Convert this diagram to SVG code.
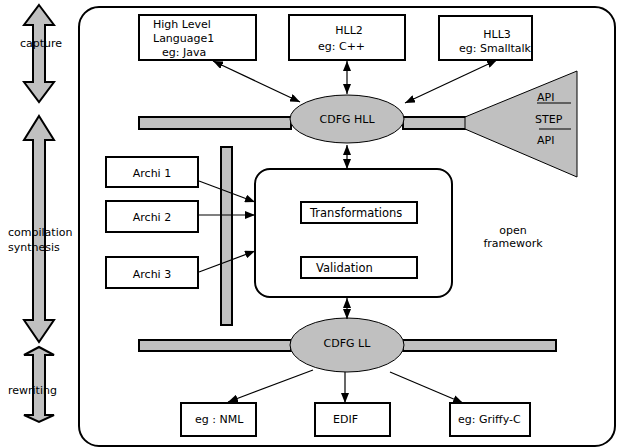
<svg xmlns="http://www.w3.org/2000/svg" width="618" height="448" viewBox="0 0 618 448">
  <style>
    text { font-family: "DejaVu Sans", "Liberation Sans", sans-serif; font-size: 11px; fill: #000; }
    .box { fill: #fff; stroke: #000; stroke-width: 2; }
    .bar { fill: #c0c0c0; stroke: #000; stroke-width: 2; }
    .oval { fill: #c0c0c0; stroke: #000; stroke-width: 1; }
    .flow { fill: #c0c0c0; stroke: #000; stroke-width: 2; stroke-linejoin: miter; }
    .edge { fill: none; stroke: #000; stroke-width: 1.2; }
    .mid { text-anchor: middle; }
  </style>
  <defs>
    <marker id="head" viewBox="0 0 10 8" refX="10" refY="4" markerWidth="10" markerHeight="8" markerUnits="userSpaceOnUse" orient="auto-start-reverse">
      <path d="M0,0 L10,4 L0,8 Z" fill="#000"/>
    </marker>
  </defs>

  <!-- phase arrows on the left -->
  <g id="phase-capture">
    <polygon class="flow" points="39,5 54,25 45,25 45,82 54,82 39,102 24,82 33,82 33,25 24,25"/>
    <text x="20" y="47">capture</text>
  </g>
  <g id="phase-compilation">
    <polygon class="flow" points="39,116 54,140 45,140 45,320 54,320 39,342 24,320 33,320 33,140 24,140"/>
    <text x="8" y="236">compilation</text>
    <text x="8" y="251">synthesis</text>
  </g>
  <g id="phase-rewriting">
    <polygon class="flow" points="39,347 54,355 45,355 45,415 54,415 39,422 24,415 33,415 33,355 24,355"/>
    <text x="8" y="394">rewriting</text>
  </g>

  <!-- framework frame -->
  <g id="framework">
    <rect x="79" y="7" width="536" height="439" rx="20" ry="20" fill="none" stroke="#000" stroke-width="2"/>
    <text class="mid" x="513" y="234">open</text>
    <text class="mid" x="513" y="247">framework</text>
  </g>

  <!-- buses -->
  <g id="buses">
    <rect class="bar" x="139" y="117" width="152" height="12"/>
    <rect class="bar" x="403" y="117" width="64" height="12"/>
    <rect class="bar" x="221" y="147" width="11" height="178"/>
    <rect class="bar" x="139" y="340" width="152" height="11"/>
    <rect class="bar" x="403" y="340" width="153" height="11"/>
  </g>

  <!-- API / STEP fan -->
  <g id="api-step">
    <polygon points="465,117 577,71 577,177 465,129" fill="#c0c0c0" stroke="#000" stroke-width="1"/>
    <text x="537" y="101">API</text>
    <line x1="537" y1="103" x2="571" y2="103" stroke="#000" stroke-width="1"/>
    <text x="535" y="123">STEP</text>
    <line x1="539" y1="129" x2="571" y2="129" stroke="#000" stroke-width="1"/>
    <text x="537" y="144">API</text>
  </g>

  <!-- high level languages -->
  <g id="hll1">
    <rect class="box" x="139" y="15" width="117" height="45"/>
    <text x="153" y="28">High Level</text>
    <text x="153" y="42">Language1</text>
    <text x="162" y="56">eg: Java</text>
  </g>
  <g id="hll2">
    <rect class="box" x="289" y="15" width="116" height="45"/>
    <text class="mid" x="349" y="34">HLL2</text>
    <text x="318" y="50">eg: C++</text>
  </g>
  <g id="hll3">
    <rect class="box" x="439" y="16" width="93" height="44"/>
    <text class="mid" x="497" y="38">HLL3</text>
    <text class="mid" x="495" y="52">eg: Smalltalk</text>
  </g>

  <g id="cdfg-hll">
    <ellipse class="oval" cx="347" cy="119" rx="57" ry="24"/>
    <text class="mid" x="347" y="123">CDFG HLL</text>
  </g>

  <!-- architectures -->
  <g id="archi1">
    <rect class="box" x="106" y="157" width="92" height="30"/>
    <text class="mid" x="152" y="177">Archi 1</text>
  </g>
  <g id="archi2">
    <rect class="box" x="106" y="201" width="92" height="31"/>
    <text class="mid" x="152" y="221">Archi 2</text>
  </g>
  <g id="archi3">
    <rect class="box" x="106" y="257" width="92" height="31"/>
    <text class="mid" x="152" y="278">Archi 3</text>
  </g>

  <!-- transformation / validation core -->
  <g id="core">
    <rect x="255" y="169" width="197" height="128" rx="15" ry="15" fill="#fff" stroke="#000" stroke-width="2"/>
  </g>
  <g id="transformations">
    <rect class="box" x="301" y="202" width="116" height="21"/>
    <text x="310" y="217" style="font-size:11.5px">Transformations</text>
  </g>
  <g id="validation">
    <rect class="box" x="301" y="257" width="116" height="21"/>
    <text x="316" y="272" style="font-size:11.5px">Validation</text>
  </g>

  <g id="cdfg-ll">
    <ellipse class="oval" cx="347" cy="345" rx="57" ry="27"/>
    <text class="mid" x="347" y="347">CDFG LL</text>
  </g>

  <!-- targets -->
  <g id="nml">
    <rect class="box" x="181" y="403" width="75" height="33"/>
    <text x="195" y="423">eg : NML</text>
  </g>
  <g id="edif">
    <rect class="box" x="315" y="403" width="75" height="33"/>
    <text x="333" y="423">EDIF</text>
  </g>
  <g id="griffy">
    <rect class="box" x="450" y="403" width="80" height="33"/>
    <text x="458" y="423">eg: Griffy-C</text>
  </g>

  <!-- connectors -->
  <g id="connectors">
    <line class="edge" x1="213" y1="61" x2="300" y2="102" marker-start="url(#head)" marker-end="url(#head)"/>
    <line class="edge" x1="347" y1="61" x2="347" y2="94" marker-start="url(#head)" marker-end="url(#head)"/>
    <line class="edge" x1="497" y1="60" x2="405" y2="103" marker-start="url(#head)" marker-end="url(#head)"/>
    <line class="edge" x1="347" y1="145" x2="347" y2="169" marker-start="url(#head)" marker-end="url(#head)"/>
    <line class="edge" x1="199" y1="181" x2="255" y2="202" marker-end="url(#head)"/>
    <line class="edge" x1="199" y1="215" x2="255" y2="215" marker-end="url(#head)"/>
    <line class="edge" x1="199" y1="272" x2="255" y2="251" marker-end="url(#head)"/>
    <line class="edge" x1="347" y1="298" x2="347" y2="319" marker-start="url(#head)" marker-end="url(#head)"/>
    <line class="edge" x1="313" y1="370" x2="228" y2="402" marker-end="url(#head)"/>
    <line class="edge" x1="345" y1="372" x2="345" y2="403" marker-end="url(#head)"/>
    <line class="edge" x1="390" y1="372" x2="463" y2="403" marker-end="url(#head)"/>
  </g>
</svg>
